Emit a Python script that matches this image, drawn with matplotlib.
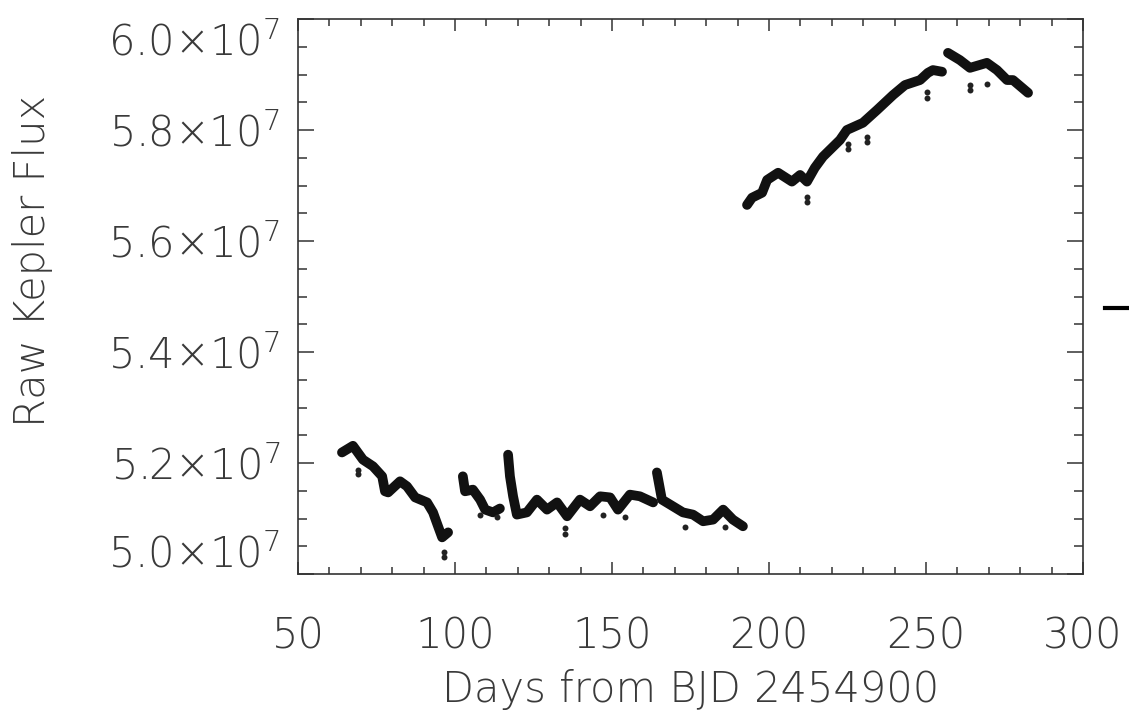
import matplotlib
matplotlib.use("Agg")
import matplotlib.pyplot as plt
import matplotlib.transforms as mtransforms
from matplotlib.lines import Line2D
from matplotlib.ticker import MultipleLocator, FixedLocator
import numpy as np

# light curve pieces (days from BJD 2454900, flux in units of 1e7)
days_q1 = [64.0, 67.5, 70.7, 73.9, 76.8, 77.7, 78.7, 82.5, 84.7, 87.3, 91.1, 93.0, 94.6, 95.9, 97.8]
flux_q1 = [5.219, 5.231, 5.206, 5.194, 5.176, 5.149, 5.147, 5.167, 5.158, 5.138, 5.129, 5.111, 5.086, 5.066, 5.075]

days_q2a = [102.5, 103.2, 105.7, 108.0, 109.6, 112.1, 114.3]
flux_q2a = [5.176, 5.149, 5.152, 5.134, 5.116, 5.111, 5.118]

days_q2b = [116.9, 117.5, 118.5, 119.7, 122.9, 126.1, 129.3, 132.5, 135.7, 139.8, 143.0,
            146.2, 149.4, 151.9, 155.7, 158.9, 163.1]
flux_q2b = [5.215, 5.176, 5.140, 5.107, 5.111, 5.134, 5.116, 5.129, 5.104, 5.134, 5.122,
            5.140, 5.138, 5.116, 5.143, 5.140, 5.129]

days_q2c = [164.3, 165.9, 169.4, 172.6, 175.8, 179.0, 182.2, 185.4, 188.5, 191.7]
flux_q2c = [5.183, 5.134, 5.122, 5.111, 5.107, 5.095, 5.098, 5.116, 5.098, 5.086]

days_q3 = [193.0, 194.6, 197.8, 199.4, 202.9, 207.3, 209.9, 212.1, 214.6, 217.2, 222.6,
           224.8, 229.9, 234.4, 239.5, 243.3, 248.1, 250.6, 252.2, 255.1]
flux_q3 = [5.665, 5.678, 5.687, 5.710, 5.723, 5.707, 5.719, 5.707, 5.732, 5.752, 5.782,
           5.800, 5.813, 5.836, 5.863, 5.881, 5.890, 5.903, 5.908, 5.905]

days_q3b = [257.0, 260.8, 264.0, 269.4, 272.6, 275.8, 277.7, 282.5]
flux_q3b = [5.939, 5.926, 5.912, 5.921, 5.908, 5.890, 5.890, 5.867]

# isolated low points (momentum dumps etc.)
days_out = [69.1, 69.1, 96.5, 96.5, 108.0, 113.4, 135.0, 135.0, 147.1, 154.1, 173.2, 186.0,
            212.1, 212.1, 225.2, 225.2, 231.2, 231.2, 250.3, 250.3, 264.0, 264.0, 269.4]
flux_out = [5.188, 5.180, 5.039, 5.030, 5.107, 5.102, 5.082, 5.072, 5.107, 5.102, 5.084, 5.084,
            5.680, 5.670, 5.775, 5.765, 5.788, 5.778, 5.868, 5.858, 5.881, 5.872, 5.883]

segments = [(days_q1, flux_q1), (days_q2a, flux_q2a), (days_q2b, flux_q2b),
            (days_q2c, flux_q2c), (days_q3, flux_q3), (days_q3b, flux_q3b)]

ytick_vals = [5.0, 5.2, 5.4, 5.6, 5.8, 6.0]
ytick_text = [r"$5.0{\times}10^{7}$", r"$5.2{\times}10^{7}$", r"$5.4{\times}10^{7}$",
              r"$5.6{\times}10^{7}$", r"$5.8{\times}10^{7}$", r"$6.0{\times}10^{7}$"]

txt_color = "#3a3a3a"
plt.rcParams["font.family"] = ["DejaVu Sans"]
plt.rcParams["font.weight"] = "ultralight"
plt.rcParams["mathtext.fontset"] = "custom"
plt.rcParams["mathtext.rm"] = "DejaVu Sans:weight=ultralight"
plt.rcParams["mathtext.it"] = "DejaVu Sans:weight=ultralight"
plt.rcParams["mathtext.default"] = "regular"

W, H = 1129, 716
fig = plt.figure(figsize=(W / 100, H / 100), dpi=100)
ax = fig.add_axes([298 / W, 1 - 574 / H, (1083 - 298) / W, (574 - 19) / H])

for d, f in segments:
    ax.plot(d, np.array(f) * 1e7, color="#111111", lw=7,
            solid_capstyle="round", solid_joinstyle="round")
ax.plot(days_out, np.array(flux_out) * 1e7, "o", color="#222222", ms=4.3, mew=0)

ax.set_xlim(50, 300)
ax.set_ylim(5.0e7, 6.0e7)

ax.xaxis.set_major_locator(MultipleLocator(50))
ax.xaxis.set_minor_locator(MultipleLocator(10))
ax.yaxis.set_major_locator(FixedLocator(np.array(ytick_vals) * 1e7))
ax.yaxis.set_minor_locator(MultipleLocator(0.05e7))
ax.set_yticklabels(ytick_text)

for s in ax.spines.values():
    s.set_linewidth(1.2)
    s.set_color("#333333")

ax.tick_params(axis="both", which="both", direction="in", top=True, right=True,
               colors="#333333", labelcolor=txt_color, labelsize=30, width=1.1)
ax.tick_params(axis="x", which="major", length=8.6, pad=30)
ax.tick_params(axis="x", which="minor", length=5)
ax.tick_params(axis="y", which="major", length=11.5, pad=13)
ax.tick_params(axis="y", which="minor", length=6.5)

# pull the end labels inside the axis range
shifts = {0: 17, 5: -14}
for i, lab in enumerate(ax.get_yticklabels()):
    if i in shifts:
        off = mtransforms.ScaledTranslation(0, shifts[i] / 72, fig.dpi_scale_trans)
        lab.set_transform(lab.get_transform() + off)

fig.text(691 / W, 1 - 690 / H, "Days from BJD 2454900", ha="center", va="center",
         fontsize=30, color=txt_color)
fig.text(33 / W, 1 - 261 / H, "Raw Kepler Flux", ha="center", va="center",
         rotation=90, fontsize=30, color=txt_color)

# edge of the neighbouring panel
fig.add_artist(Line2D([1105 / W, 1.0], [1 - 308 / H] * 2, transform=fig.transFigure,
                      color="black", lw=3))

fig.savefig("out.png", dpi=100)
